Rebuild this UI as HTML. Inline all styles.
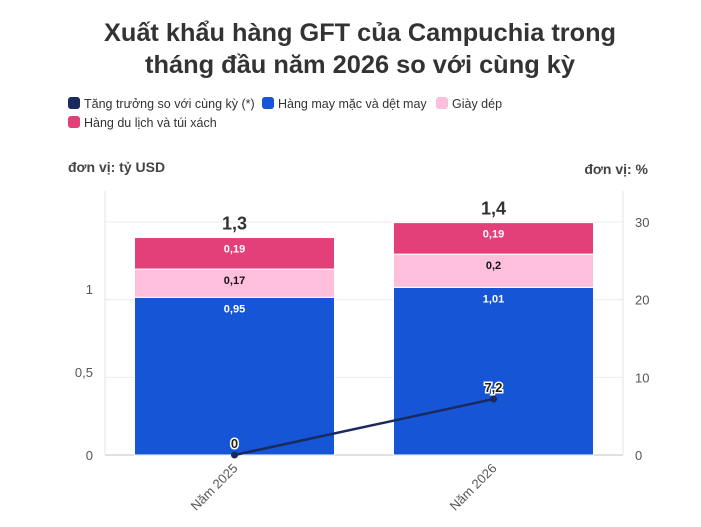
<!DOCTYPE html>
<html><head><meta charset="utf-8"><style>
body{margin:0;background:#fff;font-family:"Liberation Sans",sans-serif;}
svg text{font-family:"Liberation Sans",sans-serif;}
</style></head><body>
<svg width="701" height="522" xmlns="http://www.w3.org/2000/svg">
<text x="360" y="41" text-anchor="middle" font-size="25" font-weight="bold" fill="#333" textLength="512" lengthAdjust="spacingAndGlyphs">Xuất khẩu hàng GFT của Campuchia trong</text>
<text x="360" y="73" text-anchor="middle" font-size="25" font-weight="bold" fill="#333" textLength="430" lengthAdjust="spacingAndGlyphs">tháng đầu năm 2026 so với cùng kỳ</text>
<g font-size="12.5" fill="#333">
<g><rect x="68" y="97" width="12" height="12" rx="3" fill="#1a2a5e"/><text x="84" y="108">Tăng trưởng so với cùng kỳ (*)</text></g>
<g><rect x="262" y="97" width="12" height="12" rx="3" fill="#1655d6"/><text x="278" y="108">Hàng may mặc và dệt may</text></g>
<g><rect x="436" y="97" width="12" height="12" rx="3" fill="#fdbfdc"/><text x="452" y="108">Giày dép</text></g>
<g><rect x="68" y="116" width="12" height="12" rx="3" fill="#e34079"/><text x="84" y="127">Hàng du lịch và túi xách</text></g>
</g>
<text x="68" y="172" font-size="14" font-weight="bold" fill="#444">đơn vị: tỷ USD</text>
<text x="648" y="174" text-anchor="end" font-size="14" font-weight="bold" fill="#444">đơn vị: %</text>
<g id="plot"></g>
</svg>
<script>
const categories=["Năm 2025","Năm 2026"];
const garment=[0.95,1.01];
const footwear=[0.17,0.2];
const travel=[0.19,0.19];
const totals=["1,3","1,4"];
const growth=[0,7.2];
const leftTicks=[0,0.5,1];
const rightTicks=[0,10,20,30];
const NS="http://www.w3.org/2000/svg";
const g=document.getElementById('plot');
const X0=105,X1=623,Y0=455;
const yL=v=>Y0-v*166;
const yR=v=>Y0-v*(233/30);
const band=(X1-X0)/categories.length;
const xC=i=>X0+band*(i+0.5);
const bw=200;
function el(t,a,txt){const e=document.createElementNS(NS,t);for(const k in a)e.setAttribute(k,a[k]);if(txt!==undefined)e.textContent=txt;g.appendChild(e);return e;}
const fmt=v=>String(v).replace('.',',');
rightTicks.forEach(v=>{
 const l=el('line',{x1:X0,x2:X1,y1:yR(v),y2:yR(v),stroke:v===0?'#e0e0e0':'#ececec','stroke-width':v===0?2:1});
 
 
 const t=el('text',{x:X1+12,y:yR(v)+5,'font-size':13,fill:'#555'},fmt(v));
 
 
});
leftTicks.forEach(v=>{
 const t=el('text',{x:X0-12,y:yL(v)+5,'font-size':13,fill:'#555','text-anchor':'end'},fmt(v));
 
 
});
const ax=el('line',{x1:X0,x2:X0,y1:191,y2:Y0,stroke:'#e6e6e6'});


const ax2=el('line',{x1:X1,x2:X1,y1:191,y2:Y0,stroke:'#e6e6e6'});


categories.forEach((c,i)=>{
 const x=xC(i)-bw/2;
 const segs=[[garment[i],'#1655d6','#fff','garment'],[footwear[i],'#fdbfdc','#111','footwear'],[travel[i],'#e34079','#fff','travel']];
 let base=0;
 segs.forEach(s=>{
  const top=base+s[0];
  const r=el('rect',{x:x,y:yL(top),width:bw,height:yL(base)-yL(top),fill:s[1],stroke:'#fff','stroke-width':1});
  
  
  const t=el('text',{x:xC(i),y:yL(top)+15,'text-anchor':'middle','font-size':11,'font-weight':'bold',fill:s[2]},fmt(s[0]));
  
  
  base=top;
 });
 const tt=el('text',{x:xC(i),y:yL(base)-8,'text-anchor':'middle','font-size':18,'font-weight':'bold',fill:'#333'},totals[i]);
 
 
 const cl=el('text',{transform:`translate(${xC(i)+4},${Y0+14}) rotate(-45)`,'text-anchor':'end','font-size':13,fill:'#555'},c);
 
 
});
const pts=growth.map((v,i)=>xC(i)+','+yR(v)).join(' ');
const pl=el('polyline',{points:pts,fill:'none',stroke:'#1a2a5e','stroke-width':2.5});


growth.forEach((v,i)=>{
 const c=el('circle',{cx:xC(i),cy:yR(v),r:3.5,fill:'#1a2a5e'});
 
 
 const t=el('text',{x:xC(i),y:yR(v)-7,'text-anchor':'middle','font-size':13,'font-weight':'bold',fill:'#222',stroke:'#fff','stroke-width':3,'paint-order':'stroke'},fmt(v));
 
 
});
</script>
</body></html>
